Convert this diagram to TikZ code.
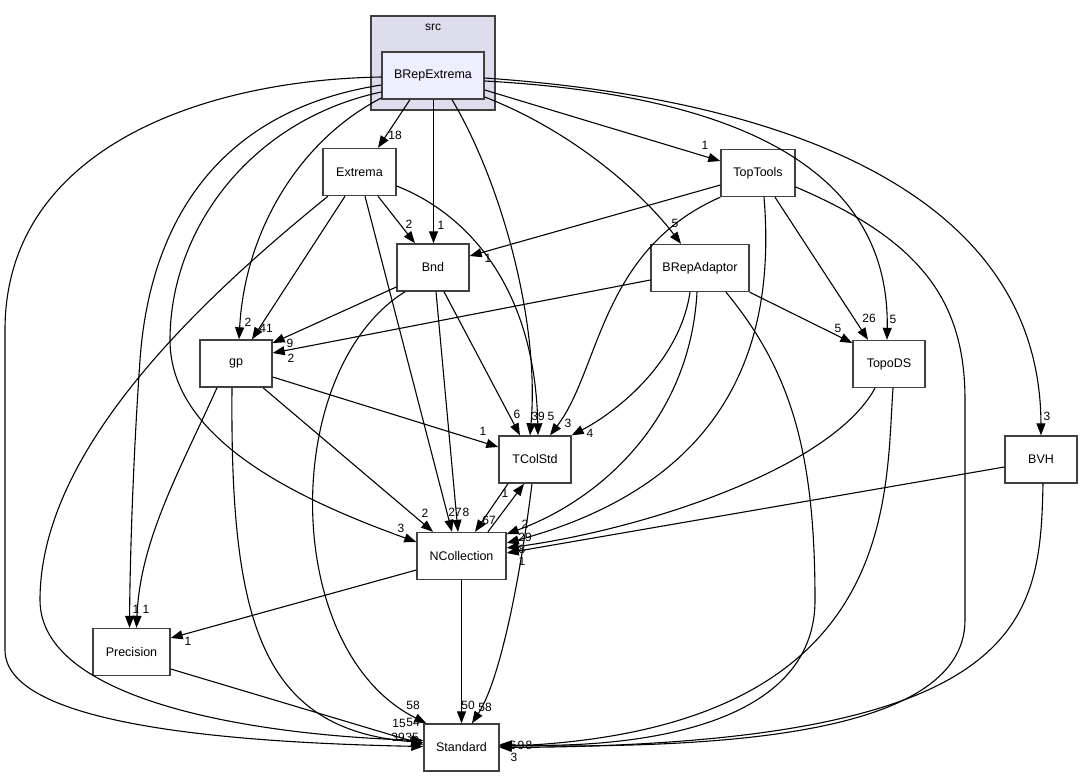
\documentclass[tikz,border=0pt]{standalone}
\usepackage{fontspec}
\setmainfont{Liberation Sans}
\usetikzlibrary{arrows.meta}
\definecolor{boxline}{RGB}{64,64,64}
\definecolor{srcfill}{RGB}{221,221,238}
\definecolor{dirfill}{RGB}{238,238,255}

\begin{document}
\begin{tikzpicture}[x=1pt,y=1pt,
    dirbox/.style={draw=boxline,line width=1.4pt,fill=white,minimum height=47,inner sep=0pt,font=\fontsize{12.5}{14}\selectfont},
    dep/.style={line width=1.1pt,-{Triangle[length=12pt,width=9pt]}},
    lbl/.style={inner sep=0pt,font=\fontsize{12}{13}\selectfont}]
    \useasboundingbox (0,0) rectangle (1083,-777);
    % cartella src
    \node[draw=boxline,fill=srcfill,line width=1.2pt,minimum width=124,minimum height=94,inner sep=0pt] (src) at (433,-63) {};
    \node[lbl] (srcname) at (433,-27) {src};
    \node[dirbox,fill=dirfill,minimum width=102] (bre) at (433,-75.5) {BRepExtrema};

    \node[dirbox,minimum width=73] (ext) at (359.5,-172) {Extrema};
    \node[dirbox,minimum width=72] (bnd) at (433,-267.5) {Bnd};
    \node[dirbox,minimum width=74] (toptools) at (758,-173) {TopTools};
    \node[dirbox,minimum width=98] (adaptor) at (700,-268) {BRepAdaptor};
    \node[dirbox,minimum width=72] (topods) at (889,-364) {TopoDS};
    \node[dirbox,minimum width=72] (gp) at (236,-363.5) {gp};
    \node[dirbox,minimum width=72] (tcolstd) at (535,-459.5) {TColStd};
    \node[dirbox,minimum width=72] (bvh) at (1041,-459.5) {BVH};
    \node[dirbox,minimum width=89] (ncoll) at (461.5,-556) {NCollection};
    \node[dirbox,minimum width=77] (prec) at (131.5,-652) {Precision};
    \node[dirbox,minimum width=75] (std) at (461.5,-747.5) {Standard};

    % dipendenze di BRepExtrema
    \draw[dep] ([xshift=-23]bre.south) -- ([xshift=18.5]ext.north) node[lbl] at (395,-135) {18};
    \draw[dep] ([xshift=0.5]bre.south) -- ([xshift=0.5]bnd.north) node[lbl] at (441,-225) {1};
    \draw[dep] ([xshift=19]bre.south) .. controls (500,-180) and (540,-320) .. ([xshift=-5]tcolstd.north) node[lbl] at (538,-416) {39};
    \draw[dep] ([yshift=-14.5]bre.east) -- ([yshift=12]toptools.west) node[lbl] at (705,-145) {1};
    \draw[dep] ([yshift=-21.5]bre.east) .. controls (570,-130) and (640,-190) .. ([xshift=-19]adaptor.north) node[lbl] at (675,-223) {5};
    \draw[dep] ([yshift=-5.5]bre.east) .. controls (740,-95) and (890,-170) .. ([xshift=-2]topods.north) node[lbl] at (893,-319) {5};
    \draw[dep] ([yshift=-2.5]bre.east) .. controls (800,-100) and (1040,-200) .. (bvh.north) node[lbl] at (1047,-416) {3};
    \draw[dep] ([yshift=-22.5]bre.west) .. controls (300,-140) and (245,-230) .. ([xshift=3]gp.north) node[lbl] at (248,-322) {2};
    \draw[dep] ([yshift=-16.5]bre.west) .. controls (250,-120) and (170,-230) .. (170,-340)
        .. controls (170,-440) and (300,-500) .. ([yshift=14]ncoll.west) node[lbl] at (401,-528) {3};
    \draw[dep] ([yshift=-9.5]bre.west) .. controls (220,-110) and (150,-220) .. (140,-360)
        .. controls (133,-460) and (130,-560) .. ([xshift=-2]prec.north) node[lbl] at (136,-609) {1};
    \draw[dep] ([yshift=-1.5]bre.west) .. controls (200,-80) and (5,-150) .. (5,-330) -- (5,-650)
        .. controls (5,-720) and (200,-742) .. ([yshift=1]std.west) node[lbl] at (398,-737) {39};

    % Extrema
    \draw[dep] ([xshift=18.5]ext.south) -- ([xshift=-18]bnd.north) node[lbl] at (409,-224) {2};
    \draw[dep] ([xshift=-14.5]ext.south) -- ([xshift=16]gp.north) node[lbl] at (266,-328) {41};
    \draw[dep] ([xshift=5.5]ext.south) -- ([xshift=-9.5]ncoll.north) node[lbl] at (455,-512) {27};
    \draw[dep] ([yshift=-14]ext.east) .. controls (470,-215) and (535,-290) .. ([xshift=3]tcolstd.north) node[lbl] at (551,-416) {5};
    \draw[dep] ([xshift=-31.5]ext.south) .. controls (200,-300) and (40,-450) .. (40,-600)
        .. controls (40,-700) and (250,-735) .. ([yshift=7]std.west) node[lbl] at (399,-723) {15};

    % gp e Bnd
    \draw[dep] ([xshift=27]gp.south) -- ([xshift=-28.5]ncoll.north) node[lbl] at (425,-513) {2};
    \draw[dep] ([yshift=-13.5]gp.east) -- ([yshift=12.5]tcolstd.west) node[lbl] at (483,-431) {1};
    \draw[dep] ([xshift=-19]gp.south) .. controls (180,-470) and (140,-540) .. ([xshift=5]prec.north) node[lbl] at (146,-609) {1};
    \draw[dep] ([xshift=-4]gp.south) .. controls (230,-620) and (260,-730) .. ([yshift=5]std.west) node[lbl] at (413,-722) {54};
    \draw[dep] ([yshift=-19.5]bnd.west) -- ([yshift=20.5]gp.east) node[lbl] at (290,-343) {9};
    \draw[dep] ([xshift=11]bnd.south) -- ([xshift=-15]tcolstd.north) node[lbl] at (517,-414) {6};
    \draw[dep] ([xshift=3]bnd.south) -- ([xshift=-3.5]ncoll.north) node[lbl] at (466,-512) {8};
    \draw[dep] ([xshift=-28]bnd.south) .. controls (280,-370) and (280,-650) .. ([xshift=3]std.north west) node[lbl] at (413,-705) {58};

    % BRepAdaptor e TopTools
    \draw[dep] ([yshift=-12]adaptor.west) -- ([yshift=10.5]gp.east) node[lbl] at (291,-358) {2};
    \draw[dep] (adaptor.south east) -- ([yshift=21]topods.west) node[lbl] at (838,-328) {5};
    \draw[dep] ([xshift=-10]adaptor.south) .. controls (680,-360) and (620,-410) .. (tcolstd.north east) node[lbl] at (590,-433) {4};
    \draw[dep] ([xshift=-3]adaptor.south) .. controls (690,-420) and (600,-500) .. ([yshift=22]ncoll.east) node[lbl] at (525,-524) {2};
    \draw[dep] ([xshift=26]adaptor.south) .. controls (790,-370) and (815,-450) .. (815,-600)
        .. controls (815,-740) and (600,-748) .. ([yshift=3]std.east) node[lbl] at (513,-745) {6};
    \draw[dep] ([yshift=-12]toptools.west) -- ([yshift=11.5]bnd.east) node[lbl] at (488,-258) {1};
    \draw[dep] (toptools.south west) .. controls (600,-250) and (600,-370) .. ([xshift=15]tcolstd.north) node[lbl] at (568,-423) {3};
    \draw[dep] ([xshift=17]toptools.south) -- ([xshift=-21]topods.north) node[lbl] at (869,-318) {26};
    \draw[dep] ([xshift=6]toptools.south) .. controls (775,-330) and (740,-480) .. ([yshift=13]ncoll.east) node[lbl] at (525,-537) {29};
    \draw[dep] ([yshift=-14]toptools.east) .. controls (920,-240) and (965,-300) .. (965,-400) -- (965,-620)
        .. controls (965,-740) and (700,-748) .. ([yshift=2]std.east) node[lbl] at (521,-745) {9};

    % TopoDS e BVH
    \draw[dep] ([xshift=-14]topods.south) .. controls (830,-470) and (640,-530) .. ([yshift=8]ncoll.east) node[lbl] at (522,-549) {8};
    \draw[dep] ([xshift=4]topods.south) .. controls (885,-500) and (900,-730) .. ([yshift=1]std.east) node[lbl] at (529,-745) {8};
    \draw[dep] ([yshift=-7.5]bvh.west) -- ([yshift=3]ncoll.east) node[lbl] at (522,-561) {1};
    \draw[dep] ([xshift=2]bvh.south) .. controls (1040,-620) and (1030,-745) .. (std.east) node[lbl] at (514,-757) {3};

    % TColStd, NCollection, Precision
    \draw[dep] ([xshift=-27]tcolstd.south) -- ([xshift=13.5]ncoll.north) node[lbl] at (489,-520) {67};
    \draw[dep] ([xshift=26.5]ncoll.north) -- ([xshift=-11]tcolstd.south) node[lbl] at (505,-493) {1};
    \draw[dep] ([xshift=-3]tcolstd.south) .. controls (520,-580) and (500,-680) .. ([xshift=10.5]std.north) node[lbl] at (485,-707) {58};
    \draw[dep] (ncoll.south) -- (std.north) node[lbl] at (468,-705) {50};
    \draw[dep] ([yshift=-14]ncoll.west) -- ([yshift=14]prec.east) node[lbl] at (188,-641) {1};
    \draw[dep] ([yshift=-17]prec.east) -- ([yshift=3]std.west) node[lbl] at (412,-737) {35};
\end{tikzpicture}
\end{document}
